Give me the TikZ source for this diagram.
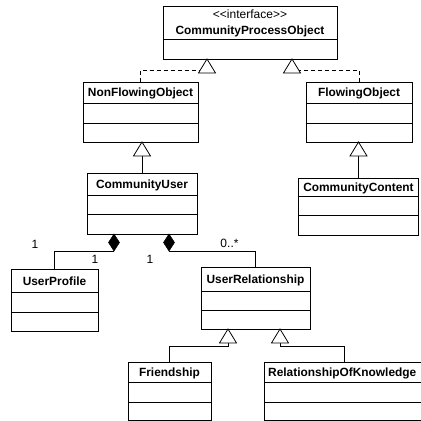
\documentclass[tikz,border=0pt]{standalone}
\usepackage{fontspec}
\setmainfont{Liberation Sans}
\usetikzlibrary{calc}
\begin{document}
\begin{tikzpicture}[x=1pt,y=-1pt,
  classbox/.style={draw, line width=1pt, inner sep=0pt, outer sep=0pt, anchor=north west, fill=white},
  ctitle/.style={font=\fontsize{11.9}{14}\selectfont\bfseries, anchor=base, inner sep=0pt},
  plain/.style={font=\fontsize{12}{14}\selectfont, anchor=base, inner sep=0pt},
  divider/.style={line width=1pt},
  conn/.style={line width=0.75pt},
  realize/.style={conn, dash pattern=on 4pt off 3pt},
  gentri/.style={line width=0.8pt, fill=white},
  compdia/.style={fill=black, line width=0.5pt}
]
\useasboundingbox (0,0) rectangle (421,421);
\clip (0,0) rectangle (421,421);

% CommunityProcessObject
\node[classbox, minimum width=174pt, minimum height=53pt] (cpo) at (163,6) {};
\draw[divider] ($(cpo.north west)+(0,33)$) -- ($(cpo.north east)+(0,33)$);
\node[plain] (cpoS) at (250,18) {{<}{<}interface{>}{>}};
\node[ctitle] (cpoT) at (250,34) {CommunityProcessObject};

% NonFlowingObject
\node[classbox, minimum width=115pt, minimum height=60pt] (nfo) at (83,82) {};
\draw[divider] ($(nfo.north west)+(0,21)$) -- ($(nfo.north east)+(0,21)$);
\draw[divider] ($(nfo.north west)+(0,41)$) -- ($(nfo.north east)+(0,41)$);
\node[ctitle] (nfoT) at ($(nfo.north)+(0,14)$) {NonFlowingObject};

% FlowingObject
\node[classbox, minimum width=106pt, minimum height=60pt] (fo) at (306,82) {};
\draw[divider] ($(fo.north west)+(0,21)$) -- ($(fo.north east)+(0,21)$);
\draw[divider] ($(fo.north west)+(0,41)$) -- ($(fo.north east)+(0,41)$);
\node[ctitle] (foT) at ($(fo.north)+(0,14)$) {FlowingObject};

% CommunityUser
\node[classbox, minimum width=110pt, minimum height=61pt] (cu) at (87,173) {};
\draw[divider] ($(cu.north west)+(0,22)$) -- ($(cu.north east)+(0,22)$);
\draw[divider] ($(cu.north west)+(0,41)$) -- ($(cu.north east)+(0,41)$);
\node[ctitle] (cuT) at ($(cu.north)+(0,15)$) {CommunityUser};

% CommunityContent
\node[classbox, minimum width=120pt, minimum height=57pt] (cc) at (298.5,178) {};
\draw[divider] ($(cc.north west)+(0,18)$) -- ($(cc.north east)+(0,18)$);
\draw[divider] ($(cc.north west)+(0,37)$) -- ($(cc.north east)+(0,37)$);
\node[ctitle] (ccT) at ($(cc.north)+(0,13)$) {CommunityContent};

% UserProfile
\node[classbox, minimum width=87pt, minimum height=62pt] (up) at (11,269) {};
\draw[divider] ($(up.north west)+(0,23)$) -- ($(up.north east)+(0,23)$);
\draw[divider] ($(up.north west)+(0,43)$) -- ($(up.north east)+(0,43)$);
\node[ctitle] (upT) at ($(up.north)+(0,16)$) {UserProfile};

% UserRelationship
\node[classbox, minimum width=109pt, minimum height=62pt] (ur) at (201,267) {};
\draw[divider] ($(ur.north west)+(0,24)$) -- ($(ur.north east)+(0,24)$);
\draw[divider] ($(ur.north west)+(0,43)$) -- ($(ur.north east)+(0,43)$);
\node[ctitle] (urT) at ($(ur.north)+(0,16)$) {UserRelationship};

% Friendship
\node[classbox, minimum width=83pt, minimum height=58pt] (fr) at (128,362) {};
\draw[divider] ($(fr.north west)+(0,20)$) -- ($(fr.north east)+(0,20)$);
\draw[divider] ($(fr.north west)+(0,40)$) -- ($(fr.north east)+(0,40)$);
\node[ctitle] (frT) at ($(fr.north)+(0,14.5)$) {Friendship};

% RelationshipOfKnowledge
\node[classbox, minimum width=160pt, minimum height=58pt] (rok) at (264,362) {};
\draw[divider] ($(rok.north west)+(0,20)$) -- ($(rok.north east)+(0,20)$);
\draw[divider] ($(rok.north west)+(0,40)$) -- ($(rok.north east)+(0,40)$);
\node[ctitle, anchor=base west] (rokT) at ($(rok.north west)+(4,14.5)$) {RelationshipOfKnowledge};

% realizations to CommunityProcessObject
\coordinate (t1) at ($(cpo.south west)+(44,0)$);
\coordinate (t2) at ($(cpo.south east)+(-45,0)$);
\draw[realize] (nfo.north) |- ($(t1)+(0,11)$);
\draw[realize] (fo.north) |- ($(t2)+(0,11)$);
\draw[gentri] (t1) -- ++(-8.5,14) -- ++(17,0) -- cycle;
\draw[gentri] (t2) -- ++(-8.5,14) -- ++(17,0) -- cycle;

% generalizations
\coordinate (t3) at (cu.north |- nfo.south);
\draw[conn] (cu.north) -- (t3);
\draw[gentri] (t3) -- ++(-8.5,14) -- ++(17,0) -- cycle;

\coordinate (t4) at (cc.north |- fo.south);
\draw[conn] (cc.north) -- (t4);
\draw[gentri] (t4) -- ++(-8.5,14) -- ++(17,0) -- cycle;

\coordinate (t5) at ($(ur.south west)+(27,0)$);
\coordinate (t6) at ($(ur.south west)+(79,0)$);
\draw[conn] (fr.north) |- ($(t5)+(0,17)$) -- ($(t5)+(0,14)$);
\draw[conn] (rok.north) |- ($(t6)+(0,17)$) -- ($(t6)+(0,14)$);
\draw[gentri] (t5) -- ++(-8.5,14) -- ++(17,0) -- cycle;
\draw[gentri] (t6) -- ++(-8.5,14) -- ++(17,0) -- cycle;

% compositions
\coordinate (d1) at ($(cu.south west)+(27,0)$);
\coordinate (d2) at ($(cu.south east)+(-28,0)$);
\draw[conn] (up.north) |- ($(d1)+(0,17)$);
\draw[conn] (ur.north) |- ($(d2)+(0,17)$);
\draw[compdia] (d1) -- ++(5.5,8.5) -- ++(-5.5,8.5) -- ++(-5.5,-8.5) -- cycle;
\draw[compdia] (d2) -- ++(5.5,8.5) -- ++(-5.5,8.5) -- ++(-5.5,-8.5) -- cycle;

% multiplicities
\node[plain] (m1) at (35,248) {1};
\node[plain] (m2) at (95,263) {1};
\node[plain] (m3) at (150,263) {1};
\node[plain] (m4) at (229.5,247) {0..*};
\end{tikzpicture}
\end{document}
